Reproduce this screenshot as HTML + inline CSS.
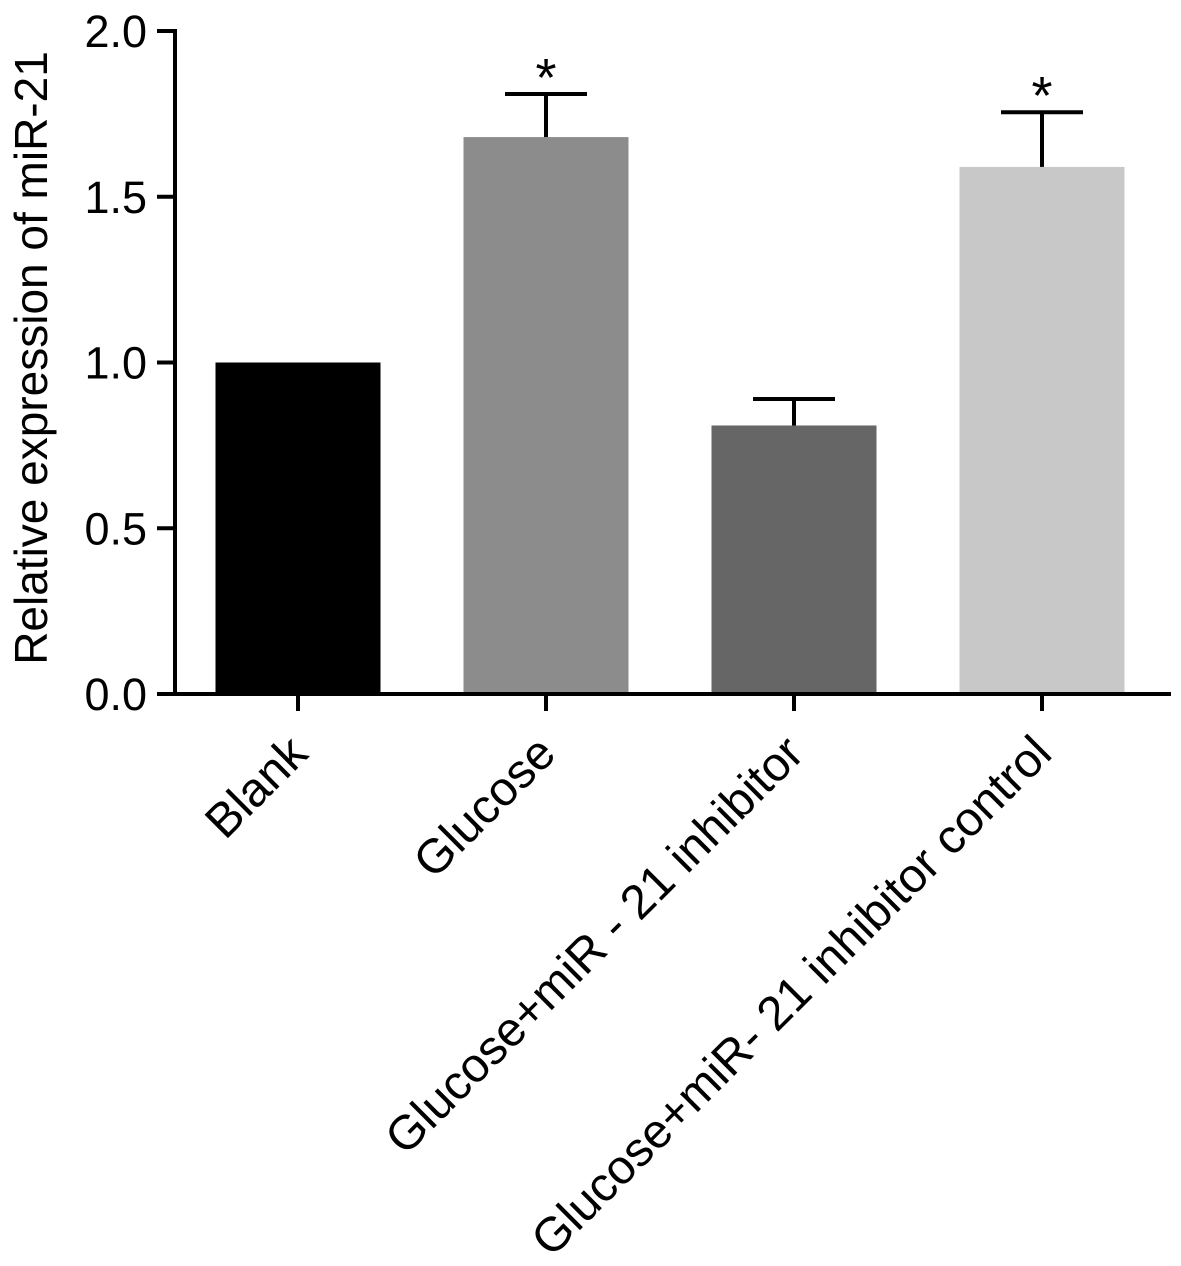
<!DOCTYPE html>
<html><head><meta charset="utf-8"><style>
html,body{margin:0;padding:0;background:#fff;}
svg{display:block;font-family:"Liberation Sans",Arial,sans-serif;}
</style></head><body>
<svg id="chart" width="1181" height="1266" viewBox="0 0 1181 1266"></svg>
<script>
const categories = ["Blank","Glucose","Glucose+miR - 21 inhibitor","Glucose+miR- 21 inhibitor control"];
const values = [1.0, 1.68, 0.81, 1.59];
const errors = [0, 0.13, 0.08, 0.165];
const significant = [false, true, false, true];
const colors = ["#000000","#8c8c8c","#666666","#c8c8c8"];
const yTicks = [0, 0.5, 1.0, 1.5, 2.0];
const yTickLabels = ["0.0","0.5","1.0","1.5","2.0"];

const NS="http://www.w3.org/2000/svg";
const svg=document.getElementById('chart');
const x0=175, y0=694, yScale=331.5, step=248, firstCenter=298, barW=165;
const y=v=>y0-v*yScale;
const xc=i=>firstCenter+i*step;
function mk(t,a,parent){const e=document.createElementNS(NS,t);for(const k in a)e.setAttribute(k,a[k]);(parent||svg).appendChild(e);return e;}

categories.forEach((c,i)=>{
  const r=mk('rect',{x:xc(i)-barW/2,y:y(values[i]),width:barW,height:y0-y(values[i]),fill:colors[i]});
  
  
  if(errors[i]>0){
    const g=mk('g',{stroke:'#000','stroke-width':4});
    
    
    mk('line',{x1:xc(i),x2:xc(i),y1:y(values[i]),y2:y(values[i]+errors[i])},g);
    mk('line',{x1:xc(i)-41,x2:xc(i)+41,y1:y(values[i]+errors[i]),y2:y(values[i]+errors[i])},g);
  }
  if(significant[i]){
    const s=mk('text',{x:xc(i),y:y(values[i]+errors[i])+2,'font-size':54,'text-anchor':'middle'});
    s.textContent='*';
    
    
  }
  const tk=mk('line',{x1:xc(i),x2:xc(i),y1:y0,y2:y0+17,stroke:'#000','stroke-width':4});
  
  
  const lb=mk('text',{x:0,y:0,'font-size':48,'text-anchor':'end',transform:`translate(${xc(i)+12},${y0+62}) rotate(-45)`});
  lb.textContent=c;
  
  
});

const ax=mk('g',{stroke:'#000','stroke-width':4,fill:'none'});


mk('line',{x1:x0,x2:x0,y1:y(2)-2,y2:y0+2},ax);
mk('line',{x1:x0-2,x2:1171,y1:y0,y2:y0},ax);
yTicks.forEach((t,i)=>{
  const l=mk('line',{x1:x0-18,x2:x0,y1:y(t),y2:y(t),stroke:'#000','stroke-width':4});
  
  
  const tx=mk('text',{x:147,y:y(t)+16,'font-size':45,'text-anchor':'end'});
  tx.textContent=yTickLabels[i];
  
  
});
const yt=mk('text',{x:0,y:0,'font-size':46,'text-anchor':'middle',transform:'translate(47,358) rotate(-90)'});
yt.textContent='Relative expression of miR-21';


</script>
</body></html>
